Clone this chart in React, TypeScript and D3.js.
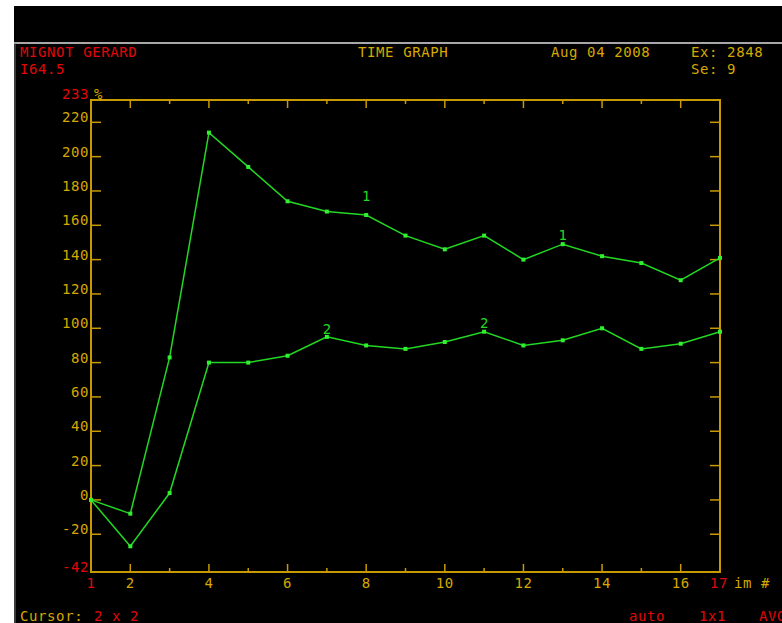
import React from 'react';
import * as d3 from 'd3';

// image numbers on the x axis
const images = d3.range(1, 18);
// series values in %
const series1 = [0, -8, 83, 214, 194, 174, 168, 166, 154, 146, 154, 140, 149, 142, 138, 128, 141];
const series2 = [0, -27, 4, 80, 80, 84, 95, 90, 88, 92, 98, 90, 93, 100, 88, 91, 98];
const yTicks = d3.range(-20, 221, 20);
const xLabels = [2, 4, 6, 8, 10, 12, 14, 16];
// curve labels: which series, at which image, lift in px
const curveLabels = [
  {name: '1', values: series1, at: 8, dy: -14},
  {name: '1', values: series1, at: 13, dy: -4},
  {name: '2', values: series2, at: 7, dy: -3},
  {name: '2', values: series2, at: 11, dy: -4},
];

const W = 782, H = 623;
const YEL = '#d6a800';
const RED = '#e00808';
const GRN = '#22d822';
const FONT = '"DejaVu Sans Mono", monospace';

export default function App() {
  const x = d3.scaleLinear().domain([1, 17]).range([91, 720]);
  const y = d3.scaleLinear().domain([-42, 233]).range([572, 100]);
  const line = d3.line<number>().x((d, i) => x(images[i])).y(d => y(d));

  const txt = (s: string, tx: number, ty: number, fill: string, anchor = 'start') => (
    <text x={tx} y={ty} fill={fill} textAnchor={anchor} fontSize={14} letterSpacing={0.6} fontFamily={FONT}>{s}</text>
  );

  return (
    <svg width={W} height={H} style={{position: 'absolute', left: 0, top: 0, background: '#fff'}}>
      <rect x={14} y={6} width={W - 14} height={H - 6} fill="#000" />
      <line x1={14} x2={W} y1={43} y2={43} stroke="#a8a8a8" strokeWidth={2} />
      <line x1={15} x2={15} y1={43} y2={H} stroke="#777" strokeWidth={1} />

      {txt('MIGNOT GERARD', 20, 57, RED)}
      {txt('I64.5', 20, 74, RED)}
      {txt('TIME GRAPH', 358, 57, YEL)}
      {txt('Aug 04 2008', 551, 57, YEL)}
      {txt('Ex: 2848', 691, 57, YEL)}
      {txt('Se: 9', 691, 74, YEL)}

      {/* frame */}
      <rect x={x(1)} y={y(233)} width={x(17) - x(1)} height={y(-42) - y(233)} fill="none" stroke="#c89a00" strokeWidth={2} />

      {yTicks.map(t => (
        <g key={'y' + t}>
          <line x1={x(1)} x2={x(1) + 10} y1={y(t)} y2={y(t)} stroke="#c89a00" strokeWidth={1.5} />
          <line x1={x(17) - 10} x2={x(17)} y1={y(t)} y2={y(t)} stroke="#c89a00" strokeWidth={1.5} />
          {txt(String(t), x(1) - 2, y(t), YEL, 'end')}
        </g>
      ))}
      {txt('233', x(1) - 2, y(233) - 1, RED, 'end')}
      {txt('%', x(1) + 3, y(233) - 1, YEL)}
      {txt('-42', x(1) - 2, y(-42), RED, 'end')}

      {images.slice(1, -1).map(i => {
        const len = i % 2 === 0 ? 8 : 4;
        return (
          <g key={'x' + i}>
            <line x1={x(i)} x2={x(i)} y1={y(-42)} y2={y(-42) - len} stroke="#c89a00" strokeWidth={1.5} />
            <line x1={x(i)} x2={x(i)} y1={y(233)} y2={y(233) + len} stroke="#c89a00" strokeWidth={1.5} />
          </g>
        );
      })}
      {xLabels.map(i => <g key={'xl' + i}>{txt(String(i), x(i), 588, YEL, 'middle')}</g>)}
      {txt('1', x(1), 588, RED, 'middle')}
      {txt('17', x(17) - 10, 588, RED)}
      {txt('im #', 734, 588, YEL)}

      {[series1, series2].map((s, k) => (
        <g key={'s' + k}>
          <path d={line(s) || ''} fill="none" stroke={GRN} strokeWidth={1.5} />
          {s.map((v, i) => (
            <rect key={i} x={x(images[i]) - 2} y={y(v) - 2} width={4} height={4} fill="#30f030" />
          ))}
        </g>
      ))}
      {curveLabels.map((c, k) => (
        <text key={'c' + k} x={x(c.at)} y={y(c.values[c.at - 1]) + c.dy} fill={GRN} fontSize={14}
          fontFamily={FONT} textAnchor="middle">{c.name}</text>
      ))}

      {txt('Cursor:', 20, 621, YEL)}
      {txt('2 x 2', 94, 621, RED)}
      {txt('auto', 629, 621, RED)}
      {txt('1x1', 699, 621, RED)}
      {txt('AVG', 759, 621, RED)}
    </svg>
  );
}
